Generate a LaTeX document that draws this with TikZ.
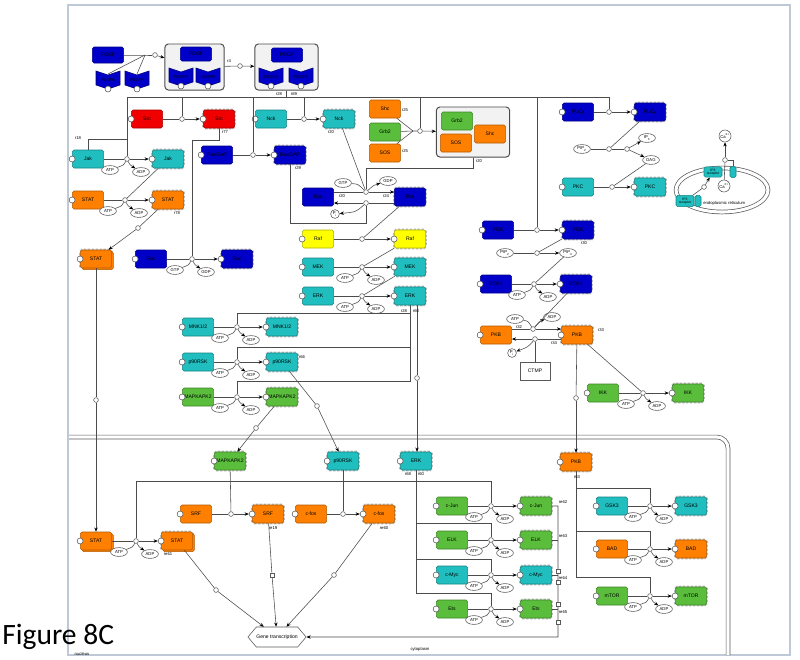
\documentclass[tikz,border=0pt]{standalone}
\usepackage{fontspec}
\setmainfont{Liberation Sans}
\newfontfamily\figfont{Carlito}
\usepackage{tikz}
\usetikzlibrary{arrows.meta,shapes.geometric,shapes.symbols,shadows}

\definecolor{blu}{RGB}{0,0,200}
\definecolor{rd}{RGB}{240,0,0}
\definecolor{tl}{RGB}{32,190,190}
\definecolor{og}{RGB}{255,128,0}
\definecolor{gr}{RGB}{90,190,60}
\definecolor{yl}{RGB}{255,255,0}
\definecolor{framecol}{RGB}{190,200,215}

\tikzset{
  sp/.style={rectangle, rounded corners=1.2pt, draw=#1!70!black, fill=#1, minimum width=0.78cm, minimum height=0.45cm, inner sep=0.5pt, font=\fontsize{3.6}{4}\selectfont},
  act/.style={sp=#1, preaction={draw=gray!55, line width=1.8pt, densely dotted}},
  dimer/.style={copy shadow={shadow xshift=1.2pt, shadow yshift=-1.2pt}},
  port/.style={circle, draw=gray!70!black, fill=white, minimum size=0.15cm, inner sep=0},
  proc/.style={circle, draw=gray!70!black, fill=white, minimum size=0.12cm, inner sep=0},
  sq/.style={rectangle, draw=gray!70!black, fill=white, minimum size=0.11cm, inner sep=0},
  mol/.style={ellipse, draw=gray!70!black, fill=white, minimum width=0.42cm, minimum height=0.22cm, inner sep=0, font=\fontsize{3}{3}\selectfont},
  ion/.style={circle, draw=gray!70!black, fill=white, minimum size=0.3cm, inner sep=0, font=\fontsize{3}{3}\selectfont},
  cplx/.style={rectangle, rounded corners=2.5pt, draw=gray!60!black, fill=gray!10, line width=0.7pt, minimum width=1.48cm, minimum height=1.15cm},
  wire/.style={draw=gray!60!black, line width=0.4pt},
  arr/.style={wire, -{Stealth[length=3pt, width=2.4pt, color=black]}},
  memb/.style={draw=gray!70!black, line width=0.5pt, double=white, double distance=2.2pt},
  tag/.style={font=\fontsize{3}{3}\selectfont, inner sep=0},
  recpt/.pic={
    \fill[blu, draw=blu!60!black] (-12,-8) -- (0,-4) -- (12,-8) -- (12,6) -- (0,10) -- (-12,6) -- cycle;
    \node[port] (-site) at (0,10) {};
    \node[font=\fontsize{2.8}{3}\selectfont] (-txt) at (0,1) {PDGFR};
    \coordinate (-top) at (0,-5);
  }
}

% one conversion: [extra] name, label, colour, x in, x process, x out, y
\newcommand{\conv}[8][]{%
  \node[sp=#4, #1] (#21) at (#5,#8) {#3};
  \node[port] (#2s) at (#21.west) {};
  \node[proc] (p#2) at (#6,#8) {};
  \node[act=#4, #1] (#22) at (#7,#8) {#3};
  \node[port] (#2t) at (#22.west) {};
  \draw[wire] (#21) -- (p#2);
  \draw[arr] (p#2) -- (#2t);
}
% side molecules of a process: name, x, y, in, out
\newcommand{\mols}[5]{%
  \node[mol] (#1in) at (#2-17,#3+11) {#4};
  \node[mol] (#1out) at (#2+14,#3+13) {#5};
  \draw[wire] (#1in) .. controls (#2-3,#3+6) .. (p#1);
  \draw[arr] (p#1) .. controls (#2+3,#3+6) .. (#1out);
}
\newcommand{\kin}[8][]{\conv[#1]{#2}{#3}{#4}{#5}{#6}{#7}{#8}\mols{#2}{#6}{#8}{ATP}{ADP}}

\begin{document}
\begin{tikzpicture}[x=0.025cm, y=-0.025cm]
  \useasboundingbox (0,0) rectangle (800,659);
  \fill[white] (0,0) rectangle (800,659);

  % Compartments
  \draw[framecol, line width=0.8pt] (68,5) rectangle (790,655);
  \draw[memb] (69,76) -- (789,76);
  \draw[memb, rounded corners=8pt] (69,437) -- (728,437) -- (728,655);
  \draw[memb] (722,190) ellipse [x radius=1.15cm, y radius=0.55cm];
  \node[anchor=base west, inner sep=0, font=\figfont\fontsize{21}{24}\selectfont] (fig) at (2,644) {Figure 8C};
  \node[tag] (cyto) at (420,649) {cytoplasm};
  \node[tag] (nucl) at (82,654) {nucleus};

  % Receptor
  \node[sp=blu, minimum height=0.4cm] (lig) at (108,55) {PDGF};
  \pic (r1) at (108,79) {recpt};
  \pic (r2) at (137,79) {recpt};
  \node[cplx] (c1) at (194.5,67) {};
  \node[sp=blu, minimum height=0.35cm] (c1l) at (196,54) {PDGF};
  \pic (c1a) at (181,76) {recpt};
  \pic (c1b) at (208,76) {recpt};
  \node[cplx, minimum width=1.58cm] (c2) at (286.5,67) {};
  \node[sp=blu, minimum height=0.35cm] (c2l) at (287,55) {PDGF};
  \pic (c2a) at (271,76) {recpt};
  \pic (c2b) at (301,76) {recpt};
  \coordinate (jl) at (145,55);
  \node[proc] (pc1) at (155,55) {};
  \node[proc] (pc2) at (240,66) {};
  \draw[wire] (lig) -- (jl) -- (pc1);
  \draw[wire] (r1-top) -- (jl);
  \draw[wire] (r2-top) -- (jl);
  \draw[arr] (pc1) -- (c1);
  \draw[wire] (c1) -- (pc2);
  \draw[arr] (pc2) -- (c2);

  % Cytoplasm
  \conv{src}{Src}{rd}{147}{182}{219}{119}
  \conv{nck}{Nck}{tl}{271}{304}{339}{119}
  \kin{jak}{Jak}{tl}{88}{127}{168}{159}
  \kin{stat}{STAT}{og}{88}{125}{168}{200}
  \conv{gap}{RasGAP}{blu}{217}{253}{290}{155}
  \conv{rac}{Rac}{blu}{151}{192}{237}{259}
  \mols{rac}{192}{259}{GTP}{GDP}
  \conv{raf}{Raf}{yl}{318}{362}{410}{239}
  \kin{mek}{MEK}{tl}{318}{362}{410}{267}
  \kin{erk}{ERK}{tl}{318}{362}{410}{296}
  \kin{mnk}{MNK1/2}{tl}{198}{237}{282}{327}
  \kin{rsk}{p90RSK}{tl}{198}{237}{282}{362}
  \kin{mkk}{MAPKAPK2}{gr}{198}{237}{282}{397}
  \conv{plc}{PLCγ}{blu}{578}{609}{650}{112}
  \conv{pkc}{PKC}{tl}{578}{612}{650}{187}
  \conv{pik}{PI3K}{blu}{498}{537}{578}{230}
  \kin{pdk}{PDK1}{blu}{496}{534}{576}{284}
  \kin{ikk}{IKK}{gr}{603}{643}{688}{393}

  \node[act=og, dimer] (stat3) at (96,259) {STAT};
  \node[port] (stat3s) at (stat3.west) {};
  \node[proc] (tdim) at (138,228) {};
  \draw[wire] (stat2) -- (tdim);
  \draw[arr] (tdim) -- (stat3);

  % Shc, Grb2, SOS
  \node[sp=og] (shc) at (385,109) {Shc};
  \node[sp=gr] (grb) at (385,132) {Grb2};
  \node[sp=og] (sos) at (385,153) {SOS};
  \coordinate (jsos) at (413,131);
  \node[proc] (psos) at (420,131) {};
  \node[cplx, minimum width=1.83cm, minimum height=1.25cm] (sc) at (473,132) {};
  \node[sp=gr] (scg) at (457,121) {Grb2};
  \node[sp=og] (scs) at (456,143) {SOS};
  \node[sp=og] (sch) at (490,134) {Shc};
  \draw[wire] (shc) -- (jsos);
  \draw[wire] (grb) -- (jsos);
  \draw[wire] (sos) -- (jsos) -- (psos);
  \draw[arr] (psos) -- (sc);

  % Ras cycle
  \node[sp=blu] (ras1) at (318,197) {Ras};
  \node[act=blu] (ras2) at (410,197) {Ras};
  \node[proc] (pras1) at (366,192) {};
  \node[proc] (pras2) at (366,203) {};
  \node[mol] (gtp) at (343,183) {GTP};
  \node[mol] (gdp) at (388,181) {GDP};
  \node[mol, circle, minimum width=0.22cm] (pi1) at (335,214) {P\textsubscript{i}};
  \draw[wire] (pras1 -| ras1.east) -- (pras1);
  \draw[arr] (pras1) -- (pras1 -| ras2.west);
  \draw[wire] (pras2 -| ras2.west) -- (pras2);
  \draw[arr] (pras2) -- (pras2 -| ras1.east);
  \draw[wire] (gtp) .. controls (358,184) .. (pras1);
  \draw[arr] (pras1) .. controls (374,185) .. (gdp);
  \draw[arr] (pras2) .. controls (356,212) .. (pi1);

  % PKB cycle
  \node[sp=og] (pkb1) at (496,335) {PKB};
  \node[port] (pkb1s) at (pkb1.west) {};
  \node[act=og] (pkb2) at (577,335) {PKB};
  \node[port] (pkb2s) at (pkb2.west) {};
  \node[proc] (ppkb1) at (533,329) {};
  \node[proc] (ppkb2) at (535,339) {};
  \node[mol] (pkbatp) at (515,319) {ATP};
  \node[mol] (pkbadp) at (552,317) {ADP};
  \node[mol, circle, minimum width=0.22cm] (pi2) at (512,353) {P\textsubscript{i}};
  \node[rectangle, draw=gray!70!black, fill=white, minimum width=0.75cm, minimum height=0.45cm, font=\fontsize{3.6}{4}\selectfont] (ctmp) at (535,371) {CTMP};
  \draw[wire] (ppkb1 -| pkb1.east) -- (ppkb1);
  \draw[arr] (ppkb1) -- (ppkb1 -| pkb2.west);
  \draw[wire] (ppkb2 -| pkb2.west) -- (ppkb2);
  \draw[arr] (ppkb2) -- (ppkb2 -| pkb1.east);
  \draw[wire] (pkbatp) .. controls (528,321) .. (ppkb1);
  \draw[arr] (ppkb1) .. controls (540,321) .. (pkbadp);
  \draw[arr] (ppkb2) .. controls (528,347) .. (pi2);
  \draw[wire] (ctmp) -- (ppkb2);

  % Lipids
  \node[mol] (pip2b) at (505,253) {PIP\textsubscript{2}};
  \node[proc] (ppip3) at (537,253) {};
  \node[mol] (pip3) at (568,253) {PIP\textsubscript{3}};
  \draw[wire] (pip2b) -- (ppip3);
  \draw[arr] (ppip3) -- (pip3);
  \node[mol] (pip2a) at (582,149) {PIP\textsubscript{2}};
  \node[proc] (ppip) at (609,149) {};
  \node[proc] (jpip) at (627,149) {};
  \node[mol] (ip3) at (647,138) {IP\textsubscript{3}};
  \node[mol] (dag) at (651,160) {DAG};
  \draw[wire] (pip2a) -- (ppip) -- (jpip);
  \draw[arr] (jpip) -- (ip3);
  \draw[arr] (jpip) -- (dag);

  % Endoplasmic reticulum
  \node[sp=tl, minimum width=0.45cm, minimum height=0.26cm, align=center, font=\fontsize{2.4}{2.6}\selectfont] (ipr1) at (713,172) {IP3\\receptor};
  \node[sp=tl, minimum width=0.15cm, minimum height=0.28cm] (ch1) at (733,172) {};
  \node[sp=tl, minimum width=0.45cm, minimum height=0.28cm, align=center, font=\fontsize{2.4}{2.6}\selectfont] (ipr2) at (685,201) {IP3\\receptor};
  \node[sp=tl, minimum width=0.15cm, minimum height=0.28cm] (ch2) at (698,201) {};
  \node[ion] (ca1) at (725,136) {Ca\textsuperscript{2+}};
  \node[proc] (pca) at (725,160) {};
  \node[ion] (ca2) at (724,186) {Ca\textsuperscript{2+}};
  \node[proc] (pipr) at (704,187) {};
  \node[tag, anchor=west] (ertxt) at (703,203) {endoplasmic reticulum};
  \draw[wire] (ca2) -- (pca);
  \draw[arr] (pca) -- (ca1);
  \draw[wire] (pca) -| (ch1);
  \draw[wire] (ipr2) -- (pipr);
  \draw[arr] (pipr) -- (ipr1);

  % Catalysis in cytoplasm
  \coordinate (busL) at (127,97);
  \coordinate (busR) at (609,97);
  \draw[wire] (c2.south) -- (c2.south |- busL);
  \draw[wire] (busL) -- (busR);
  \foreach \p in {pjak, psrc, pgap, pnck, psos, ppik, pplc}
    \draw[wire] (\p |- busL) -- (\p);
  \draw[wire] (jak1.north) -- ++(0,-10) -| (pjak);
  \draw[wire] (jak2) -- (pstat);
  \draw[wire] (src2.south) -- ++(0,12) -| (prac);
  \draw[wire] (nck2) -- (pras1);
  \draw[wire] (sc.south) -- ++(0,11) -| (pras1);
  \draw[wire] (gap2.south) -- ++(0,59) -| (pras2);
  \draw[wire] (ras2) -- (praf);
  \draw[wire] (raf2) -- (pmek);
  \draw[wire] (mek2) -- (perk);
  \draw[wire] (erk2.south) -- ++(0,8) -| (pmnk);
  \draw[wire] (erk2.south) -- ++(0,42) -| (prsk);
  \draw[wire] (erk2.south) -- ++(0,76) -| (pmkk);
  \draw[wire] (plc2) -- (ppip);
  \draw[wire] (dag) -- (ppkc);
  \draw[wire] (pik2) -- (ppip3);
  \draw[wire] (pip3) -- (ppdk);
  \draw[wire] (pdk2) -- (ppkb1);
  \draw[wire] (pkb2) -- (pikk);

  % Nucleus
  \node[act=gr] (mkkn) at (230,461) {MAPKAPK2};
  \node[port] (mkkns) at (mkkn.west) {};
  \node[act=tl] (rskn) at (343,461) {p90RSK};
  \node[port] (rskns) at (rskn.west) {};
  \node[act=tl] (erkn) at (416,461) {ERK};
  \node[port] (erkns) at (erkn.west) {};
  \node[act=og] (pkbn) at (576,462) {PKB};
  \node[port] (pkbns) at (pkbn.west) {};

  \conv{srf}{SRF}{og}{196}{231}{268}{514}
  \conv{fos}{c-fos}{og}{311}{343}{379}{514}
  \kin[dimer]{statn}{STAT}{og}{96}{136}{177}{541}
  \foreach \n/\t/\c/\y in {jun/c-Jun/gr/506, elk/ELK/gr/540, myc/c-Myc/tl/575, ets/Ets/gr/609}
    {\kin{\n}{\t}{\c}{452}{491}{536}{\y}}
  \foreach \n/\t/\c/\y in {gsk/GSK3/tl/506, bad/BAD/og/549, mtor/mTOR/gr/596}
    {\kin{\n}{\t}{\c}{612}{650}{691}{\y}}

  \node[signal, signal to=west and east, signal pointer angle=100, draw=gray!70!black, fill=white, minimum width=1.38cm, minimum height=0.5cm, inner sep=0, font=\fontsize{3.6}{4}\selectfont] (gene) at (277,637) {Gene transcription};

  % Translocation
  \node[proc] (tstat) at (96,400) {};
  \node[proc] (tmkk) at (256,428) {};
  \node[proc] (trsk) at (317,406) {};
  \node[proc] (terk) at (417,378) {};
  \node[proc] (tpkb) at (576,398) {};
  \draw[wire] (stat3) -- (tstat);
  \draw[arr] (tstat) -- (statn1);
  \draw[wire] (mkk2) -- (tmkk);
  \draw[arr] (tmkk) -- (mkkn);
  \draw[wire] (rsk2) -- (trsk);
  \draw[arr] (trsk) -- (rskn);
  \draw[wire] (erk2.south -| terk) -- (terk);
  \draw[arr] (terk) -- (terk |- erkn.north);
  \draw[wire] (pkb2) -- (tpkb);
  \draw[arr] (tpkb) -- (pkbn);

  % Catalysis in nucleus
  \draw[wire] (mkkn) -- (psrf);
  \draw[wire] (rskn) -- (pfos);
  \draw[wire] (erkn.south) -- ++(0,11) -| (pstatn);
  \draw[wire] (erkn.south) -- ++(0,11) -| (pjun);
  \draw[wire] (erkn.south) -- ++(0,53) -| (pelk);
  \draw[wire] (erkn.south) -- ++(0,89) -| (pmyc);
  \draw[wire] (erkn.south) -- ++(0,123) -| (pets);
  \draw[wire] (pkbn.south) -- ++(0,17) -| (pgsk);
  \draw[wire] (pkbn.south) -- ++(0,60) -| (pbad);
  \draw[wire] (pkbn.south) -- ++(0,106) -| (pmtor);

  % Gene transcription
  \coordinate (tr) at (558,506);
  \coordinate (tb) at (558,637);
  \draw[arr] (jun2) -- (tr) -- (tb) -- (gene);
  \foreach \n in {elk2, myc2, ets2}
    \draw[wire] (\n) -- (\n -| tr);
  \foreach \yy in {571, 582, 604, 622}
    \node[sq] (sq\yy) at (558,\yy) {};
  \node[proc] (gst) at (216,590) {};
  \node[sq] (gsr) at (272,575) {};
  \node[proc] (gfo) at (334,575) {};
  \draw[wire] (statn2) -- (gst);
  \draw[arr] (gst) -- (gene);
  \draw[wire] (srf2) -- (gsr);
  \draw[arr] (gsr) -- (gene);
  \draw[wire] (fos2) -- (gfo);
  \draw[arr] (gfo) -- (gene);

  % Reaction ids
  \foreach \t/\x/\y [count=\i] in {r4/229/61, r28/279/94, r69/294/94, r18/78/138, r77/225/132,
      r29/298/168, r20/331/132, r25/405/110, r25/405/151, r20/479/161, r20/342/196, r24/386/196,
      r78/177/213, r30/584/243, r28/404/311, r60/416/311, r66/302/357, r32/519/327, r33/601/330,
      r34/554/343, r68/408/474, r60/421/474, r63/577/477, re19/273/528, re60/384/528,
      re61/168/554, re62/563/502, re63/563/536, re64/563/578, re65/563/612}
    \node[tag] (id\i) at (\x,\y) {\t};
\end{tikzpicture}
\end{document}
